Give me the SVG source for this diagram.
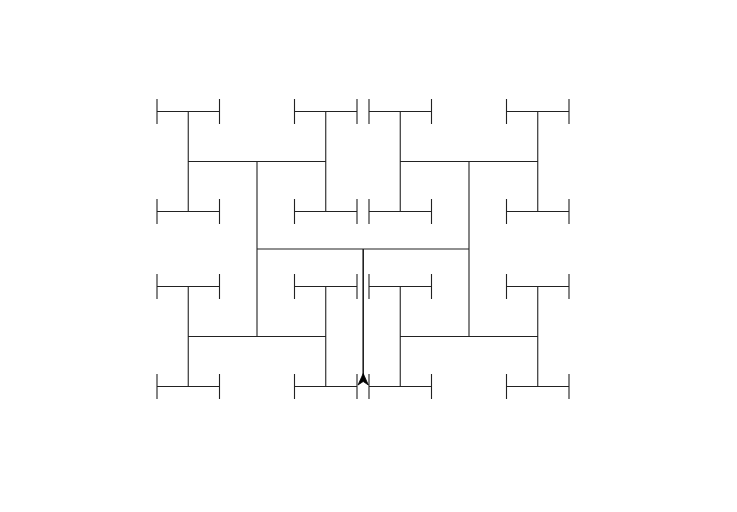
<svg xmlns="http://www.w3.org/2000/svg" xmlns:xlink="http://www.w3.org/1999/xlink" width="737" height="512" viewBox="0 0 737 512">
<style>
.ln{fill:none;stroke:#222;stroke-width:1.1}
.turtle{fill:#000;stroke:#000;stroke-width:0.8}
</style>
<defs>
<path id="tip" class="ln" d="M-31.25 0H31.25M-31.25 -12.5V12.5M31.25 -12.5V12.5"/>
</defs>
<rect width="737" height="512" fill="#fff"/>
<g id="tree">
<path class="ln" d="M257 249H469
M257 161.5V336.5M469 161.5V336.5
M188.25 161.5H325.75M400.25 161.5H537.75M188.25 336.5H325.75M400.25 336.5H537.75
M188.25 111.5V211.5M325.75 111.5V211.5M400.25 111.5V211.5M537.75 111.5V211.5
M188.25 286.5V386.5M325.75 286.5V386.5M400.25 286.5V386.5M537.75 286.5V386.5"/>
<path class="ln" d="M363.2 249V380" stroke-width="1.6" style="stroke-width:1.6"/>
</g>
<g id="tips">
<use xlink:href="#tip" href="#tip" x="188.25" y="111.5"/>
<use xlink:href="#tip" href="#tip" x="325.75" y="111.5"/>
<use xlink:href="#tip" href="#tip" x="400.25" y="111.5"/>
<use xlink:href="#tip" href="#tip" x="537.75" y="111.5"/>
<use xlink:href="#tip" href="#tip" x="188.25" y="211.5"/>
<use xlink:href="#tip" href="#tip" x="325.75" y="211.5"/>
<use xlink:href="#tip" href="#tip" x="400.25" y="211.5"/>
<use xlink:href="#tip" href="#tip" x="537.75" y="211.5"/>
<use xlink:href="#tip" href="#tip" x="188.25" y="286.5"/>
<use xlink:href="#tip" href="#tip" x="325.75" y="286.5"/>
<use xlink:href="#tip" href="#tip" x="400.25" y="286.5"/>
<use xlink:href="#tip" href="#tip" x="537.75" y="286.5"/>
<use xlink:href="#tip" href="#tip" x="188.25" y="386.5"/>
<use xlink:href="#tip" href="#tip" x="325.75" y="386.5"/>
<use xlink:href="#tip" href="#tip" x="400.25" y="386.5"/>
<use xlink:href="#tip" href="#tip" x="537.75" y="386.5"/>
</g>
<g id="turtle">
<polygon class="turtle" points="363.2,373.5 358,385 363.2,381.5 368.4,385"/>
</g>
</svg>
